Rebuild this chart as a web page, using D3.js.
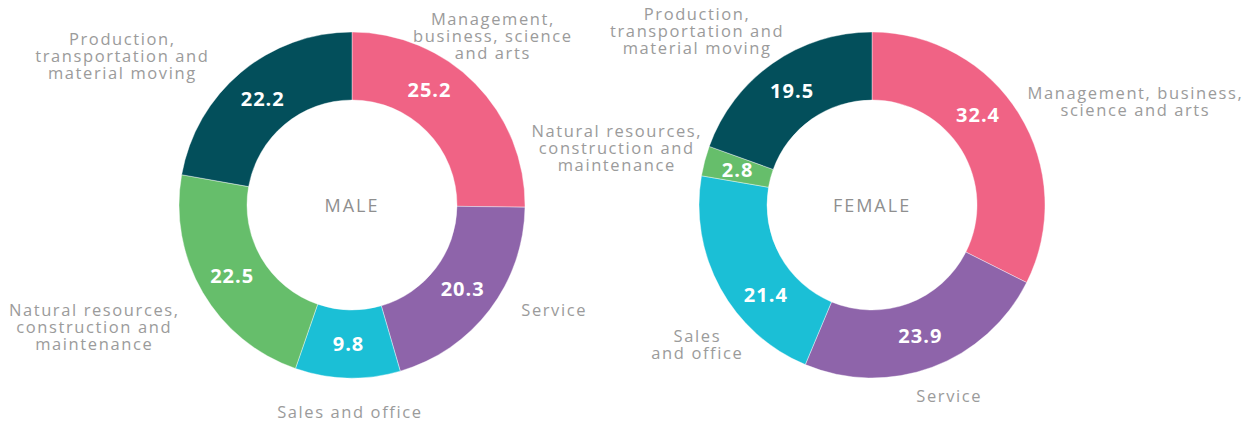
<!DOCTYPE html>
<html>
<head>
<meta charset="utf-8">
<script src="https://cdn.jsdelivr.net/npm/d3@7"></script>
<style>
  body { margin: 0; background: #fff; }
  svg { display: block; font-family: "Open Sans", "Noto Sans", sans-serif; }
  .cat { fill: #9b9b9b; font-size: 16.5px; letter-spacing: 1.6px; }
  .val { fill: #fff; font-size: 20px; font-weight: 700; letter-spacing: 1px; }
  .title { fill: #8f8f8f; font-size: 18px; letter-spacing: 2px; }
</style>
</head>
<body>
<div id="container"></div>
<script>
const width = 1258;
const height = 425;

// ---------------------------- DATA ----------------------------//
const categories = [
  "Management, business, science and arts",
  "Service",
  "Sales and office",
  "Natural resources, construction and maintenance",
  "Production, transportation and material moving"
];
const maleValues = [25.2, 20.3, 9.8, 22.5, 22.2];
const femaleValues = [32.4, 23.9, 21.4, 2.8, 19.5];
const chartTitles = ["MALE", "FEMALE"];

// how each label wraps, per chart
const maleLabelLines = [
  ["Management,", "business, science", "and arts"],
  ["Service"],
  ["Sales and office"],
  ["Natural resources,", "construction and", "maintenance"],
  ["Production,", "transportation and", "material moving"]
];
const femaleLabelLines = [
  ["Management, business,", "science and arts"],
  ["Service"],
  ["Sales", "and office"],
  ["Natural resources,", "construction and", "maintenance"],
  ["Production,", "transportation and", "material moving"]
];

const colors = ["#f06385", "#8e64aa", "#1bbfd6", "#66be6b", "#034f5b"];

// --------------------------- LAYOUT ---------------------------//
const outerR = 173;
const innerR = 105;
const labelR = 205;
const lineH = 17;

const charts = [
  {
    title: chartTitles[0], values: maleValues, lines: maleLabelLines, cx: 352, cy: 205,
    nudge: [[-5, -25], [39, -19], [3, 2], [-81, 18], [-98, 8]],
    valueShift: [-11.5, 0, 0, 0, 0]
  },
  {
    title: chartTitles[1], values: femaleValues, lines: femaleLabelLines, cx: 872, cy: 205,
    nudge: [[89, 4], [6, -1.5], [5, 41], [-57, -5], [-57, -6]],
    valueShift: [-8.6, 0, -11.4, 0, 0]
  }
];

const svg = d3.select("div#container").append("svg")
  .attr("width", width)
  .attr("height", height);

const pie = d3.pie().sort(null).value(d => d.value);
const arc = d3.arc().innerRadius(innerR).outerRadius(outerR);
const labelArc = d3.arc().innerRadius(labelR).outerRadius(labelR);

charts.forEach(chart => {
  const rows = categories.map((c, i) => ({ name: c, value: chart.values[i], i: i }));
  const arcs = pie(rows);

  const g = svg.append("g")
    .attr("transform", "translate(" + chart.cx + "," + chart.cy + ")");

  //---------------------------- SLICES ----------------------------//
  g.selectAll("path")
    .data(arcs)
    .enter()
    .append("path")
    .attr("d", arc)
    .attr("fill", d => colors[d.data.i])
    .attr("stroke", "#fff")
    .attr("stroke-width", 0.4);

  //---------------------------- VALUES ----------------------------//
  const midR = (innerR + outerR) / 2;
  g.selectAll("text.val")
    .data(arcs)
    .enter()
    .append("text")
    .attr("class", "val")
    .attr("text-anchor", "middle")
    .attr("dy", "0.36em")
    .attr("transform", d => {
      const a = (d.startAngle + d.endAngle) / 2 + chart.valueShift[d.data.i] * Math.PI / 180;
      return "translate(" + (Math.sin(a) * midR) + "," + (-Math.cos(a) * midR) + ")";
    })
    .text(d => d3.format(".1f")(d.data.value));

  //---------------------------- LABELS ----------------------------//
  arcs.forEach(d => {
    const c = labelArc.centroid(d);
    const n = chart.nudge[d.data.i];
    const lines = chart.lines[d.data.i];
    const x = c[0] + n[0];
    const y = c[1] + n[1] + 6 - (lines.length - 1) * lineH / 2;
    const t = g.append("text")
      .attr("class", "cat")
      .attr("text-anchor", "middle");
    lines.forEach((l, k) => {
      t.append("tspan")
        .attr("x", x)
        .attr("y", y + k * lineH)
        .text(l);
    });
  });

  //---------------------------- TITLE -----------------------------//
  g.append("text")
    .attr("class", "title")
    .attr("text-anchor", "middle")
    .attr("y", 6.5)
    .text(chart.title);
});
</script>
</body>
</html>
